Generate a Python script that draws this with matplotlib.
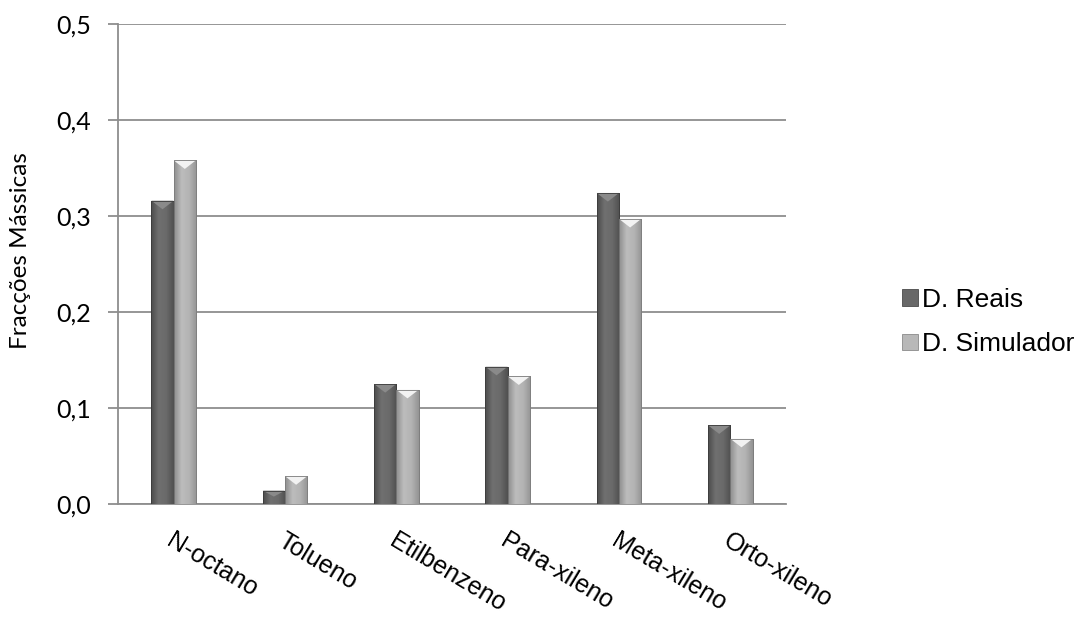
import numpy as np
import matplotlib.pyplot as plt
from matplotlib.patches import Polygon, Rectangle
from matplotlib.transforms import blended_transform_factory
from matplotlib.colors import LinearSegmentedColormap

# data
categories = ["N-octano", "Tolueno", "Etilbenzeno", "Para-xileno", "Meta-xileno", "Orto-xileno"]
reais = [0.316, 0.014, 0.125, 0.143, 0.324, 0.082]
simulador = [0.358, 0.029, 0.119, 0.133, 0.297, 0.068]
series_names = ["D. Reais", "D. Simulador"]
y_ticks = [0.0, 0.1, 0.2, 0.3, 0.4, 0.5]
y_tick_labels = ["0,0", "0,1", "0,2", "0,3", "0,4", "0,5"]

# styles
W, H = 1078, 617
grid_col = "#8e8e8e"
dark_grad = ["#4c4c4c", "#707070", "#6a6a6a", "#505050"]
light_grad = ["#8e8e8e", "#bcbcbc", "#b4b4b4", "#949494"]
dark_tri = "#8a8a8a"
light_tri = "#f2f2f2"

fig = plt.figure(figsize=(W / 100, H / 100), dpi=100)
ax = fig.add_axes([118 / W, 1 - 504 / H, (786 - 118) / W, 480 / H])

x = np.arange(len(categories))
width = 0.2

def draw_bars(xpos, vals, grad, tri_col, edge):
    cmap = LinearSegmentedColormap.from_list("g", grad)
    bars = ax.bar(xpos, vals, width, color=grad[1], edgecolor=edge, linewidth=0.6, zorder=3)
    g = np.linspace(0, 1, 64).reshape(1, -1)
    for b in bars:
        x0, y0 = b.get_x(), b.get_y()
        x1, y1 = x0 + b.get_width(), y0 + b.get_height()
        im = ax.imshow(g, cmap=cmap, extent=[x0, x1, y0, y1], aspect="auto", zorder=3.5, interpolation="bilinear")
        im.set_clip_path(b)
        # bevel at the top of the bar
        th = min(0.009, (y1 - y0) * 0.45)
        tri = Polygon([[x0, y1], [x1, y1], [(x0 + x1) / 2, y1 - th]], closed=True,
                      facecolor=tri_col, edgecolor="none", zorder=4)
        ax.add_patch(tri)
        ax.add_patch(Rectangle((x0, y0), x1 - x0, y1 - y0, fill=False, edgecolor=edge, linewidth=0.6, zorder=4.5))
    return bars

draw_bars(x - width / 2, reais, dark_grad, dark_tri, "#3c3c3c")
draw_bars(x + width / 2, simulador, light_grad, light_tri, "#7c7c7c")

ax.set_xlim(-0.5, len(categories) - 0.5)
ax.set_ylim(0, 0.5)

ax.set_yticks(y_ticks)
ax.set_yticklabels(y_tick_labels, fontfamily="Lato", fontsize=18)
ax.set_xticks([])
ax.yaxis.grid(True, color=grid_col, linewidth=1.3, zorder=0)
ax.set_axisbelow(True)
ax.tick_params(axis="y", length=7.2, width=1.3, color=grid_col, pad=12, direction="out")

for s in ["top", "right"]:
    ax.spines[s].set_visible(False)
ax.spines["left"].set_color(grid_col)
ax.spines["left"].set_linewidth(1.3)
ax.spines["bottom"].set_color(grid_col)
ax.spines["bottom"].set_linewidth(1.3)

fig.text(21 / W, 1 - 251 / H, "Fracções Mássicas", rotation=90, ha="center", va="center",
         fontfamily="Lato", fontsize=17.5)

# rotated category labels
trans = blended_transform_factory(ax.transData, ax.transAxes)
for i, c in enumerate(categories):
    ax.text(i + 0.01, -25 / 480, c, transform=trans, rotation=-31, rotation_mode="anchor",
            ha="left", va="top", fontfamily="Liberation Sans", fontsize=18)

# legend
handles = [Rectangle((0, 0), 1, 1, facecolor="#686868", edgecolor="#4a4a4a", linewidth=0.6),
           Rectangle((0, 0), 1, 1, facecolor="#b8b8b8", edgecolor="#8a8a8a", linewidth=0.6)]
leg = fig.legend(handles, series_names, loc="center left", bbox_to_anchor=(902 / W, 1 - 322 / H),
                 bbox_transform=fig.transFigure, frameon=False, borderpad=0, borderaxespad=0,
                 handlelength=0.6, handleheight=0.6, handletextpad=0.15, labelspacing=0.78,
                 prop={"family": "Liberation Sans", "size": 19})

fig.savefig("out.png", dpi=100)
